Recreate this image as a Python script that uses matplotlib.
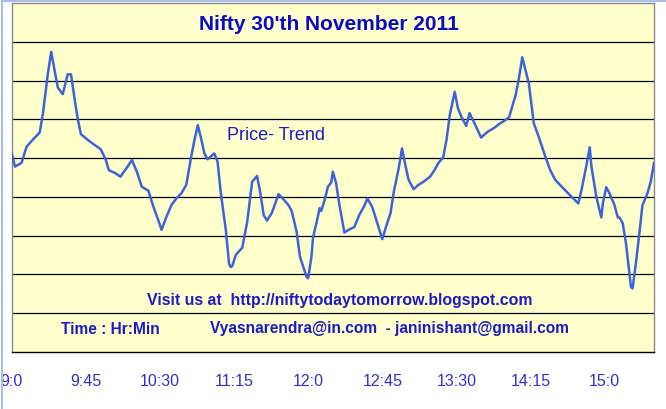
import matplotlib
matplotlib.use("Agg")
import matplotlib.pyplot as plt
from matplotlib.lines import Line2D

# Nifty intraday, 30 Nov 2011 - minutes after 9:00 and price
minutes = [0, 2, 6, 9, 12, 15, 17, 19, 22, 24, 26, 28, 31, 34, 36, 38, 40, 42,
           45, 49, 54, 57, 59, 63, 66, 70, 73, 76, 79, 83, 86, 89, 91, 94, 97,
           100, 103, 106, 109, 111, 113, 115, 117, 119, 121, 123, 125, 127, 130,
           132, 133, 134, 136, 140, 143, 146, 149, 151, 153, 155, 158, 160, 162,
           165, 168, 170, 173, 175, 177, 179, 180, 182, 183, 185, 187, 188, 190,
           192, 194, 195, 197, 199, 202, 205, 208, 211, 214, 216, 219, 222, 225,
           227, 230, 232, 235, 237, 239, 241, 244, 247, 250, 254, 257, 259, 262,
           264, 266, 269, 271, 273, 276, 278, 281, 285, 289, 293, 296, 299, 302,
           306, 308, 310, 312, 314, 317, 320, 324, 327, 330, 332, 337, 341, 344,
           346, 349, 351, 352, 355, 358, 359, 361, 363, 366, 368, 369, 371, 373,
           374, 376, 377, 379, 381, 383, 386, 388, 390]
prices = [4801.2, 4797.8, 4798.8, 4802.9, 4804.4, 4805.7, 4806.6, 4811.6, 4821.9,
          4827.4, 4822.7, 4818.2, 4816.5, 4821.6, 4821.6, 4815.8, 4810.3, 4806.2,
          4805.1, 4803.8, 4802.3, 4799.7, 4796.9, 4796.1, 4795.2, 4797.6, 4799.5,
          4796.5, 4792.6, 4791.6, 4787.5, 4784.0, 4781.5, 4784.9, 4787.9, 4789.6,
          4790.9, 4793.1, 4800.4, 4804.7, 4808.5, 4805.1, 4801.2, 4799.7, 4800.5,
          4801.2, 4799.1, 4790.9, 4781.5, 4772.7, 4771.9, 4772.2, 4775.0, 4776.9,
          4783.6, 4793.9, 4795.4, 4790.9, 4785.3, 4783.9, 4785.9, 4788.3, 4790.7,
          4789.4, 4787.9, 4786.4, 4781.0, 4774.6, 4772.0, 4769.4, 4769.0, 4774.6,
          4779.6, 4783.2, 4787.1, 4786.4, 4789.2, 4792.6, 4793.7, 4796.5, 4793.5,
          4787.9, 4780.8, 4781.6, 4782.2, 4785.3, 4787.6, 4789.6, 4787.3, 4783.2,
          4779.1, 4781.9, 4785.8, 4791.3, 4797.4, 4802.5, 4798.2, 4794.4, 4792.0,
          4793.1, 4793.9, 4795.2, 4797.1, 4798.7, 4800.2, 4804.7, 4811.1, 4817.1,
          4812.8, 4810.7, 4808.3, 4811.6, 4809.0, 4805.3, 4806.8, 4807.8, 4808.8,
          4809.6, 4810.5, 4816.3, 4820.6, 4826.0, 4822.7, 4819.3, 4809.0, 4805.5,
          4800.4, 4796.9, 4794.4, 4793.5, 4791.3, 4789.6, 4788.3, 4791.8, 4798.2,
          4802.8, 4797.8, 4790.0, 4784.7, 4788.5, 4792.5, 4790.9, 4787.9, 4784.7,
          4784.7, 4783.2, 4778.0, 4774.2, 4766.8, 4766.4, 4772.9, 4780.2, 4787.9,
          4790.9, 4793.9, 4798.7]

tick_minutes = [0, 45, 90, 135, 180, 225, 270, 315, 360]
tick_labels = ['9:0', '9:45', '10:30', '11:15', '12:0', '12:45', '13:30', '14:15', '15:0']
grid_levels = [4760, 4770, 4780, 4790, 4800, 4810, 4820, 4830]

W, H = 666, 409
fig = plt.figure(figsize=(W / 100, H / 100), dpi=100)
fig.patch.set_facecolor('white')

def fx(px):
    return px / W

def fy(py):
    return 1 - py / H

ax = fig.add_axes([fx(11.7), fy(352), fx(654 - 11.7), (352 - 3) / H])
ax.set_facecolor('#FFFFCC')

ax.plot(minutes, prices, color='#3D63D9', lw=1.8, solid_joinstyle='round', zorder=3)

ax.set_xlim(0, 390)
ax.set_ylim(4750, 4840)
ax.set_yticks(grid_levels)
ax.set_yticklabels([])
ax.tick_params(axis='y', length=0)
ax.yaxis.grid(True, color='black', lw=0.9)
ax.set_axisbelow(True)

ax.set_xticks(tick_minutes)
ax.set_xticklabels(tick_labels, family='Liberation Sans', fontsize=11.5, color='#2f2fd0')
ax.tick_params(axis='x', length=0, pad=16)

for side in ['left', 'right', 'top']:
    ax.spines[side].set_color('#8a8a8a')
    ax.spines[side].set_linewidth(1)
ax.spines['bottom'].set_color('black')
ax.spines['bottom'].set_linewidth(1)

# texts on the chart
fig.text(fx(329), fy(25), "Nifty 30'th November 2011", ha='center', va='center',
         family='Liberation Sans', fontsize=15, fontweight='bold', color='#0a0ac8')
fig.text(fx(276), fy(135), 'Price- Trend', ha='center', va='center',
         family='Liberation Sans', fontsize=13, fontweight='medium', color='#1a1ac8')
fig.text(fx(340), fy(301), 'Visit us at  http://niftytodaytomorrow.blogspot.com',
         ha='center', va='center', family='Liberation Sans', fontsize=11.4,
         fontweight='bold', color='#1a1ac8')
fig.text(fx(61), fy(329), 'Time : Hr:Min', ha='left', va='center',
         family='Liberation Sans', fontsize=11.2, fontweight='bold', color='#1a1ac8')
fig.text(fx(210), fy(329), 'Vyasnarendra@in.com  - janinishant@gmail.com', ha='left',
         va='center', family='Liberation Sans', fontsize=11.2, fontweight='bold',
         color='#1a1ac8')

# light blue frame of the picture
fig.add_artist(Line2D([fx(2), fx(2)], [0, fy(1)], color='#a9bfe6', lw=1.5))
fig.add_artist(Line2D([fx(2), 1], [fy(1), fy(1)], color='#a9bfe6', lw=1.5))

fig.savefig('out.png', dpi=100, facecolor='white')
